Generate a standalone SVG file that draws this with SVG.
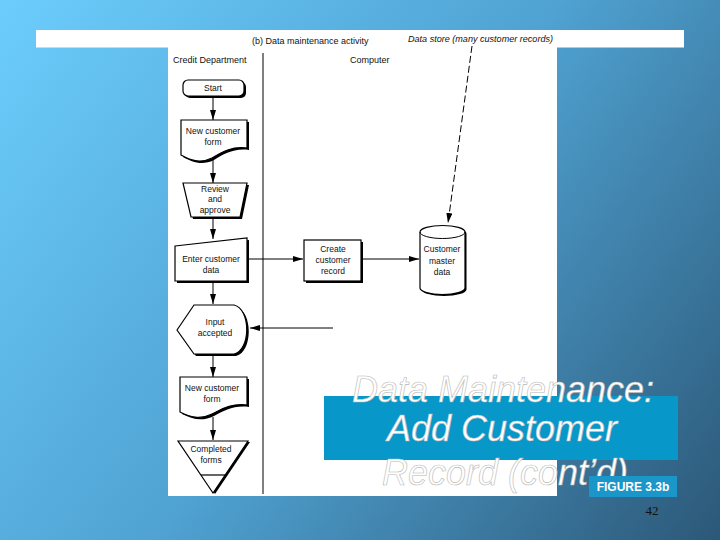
<svg xmlns="http://www.w3.org/2000/svg" width="720" height="540" viewBox="0 0 720 540">
<defs>
<linearGradient id="bg" x1="0" y1="0" x2="720" y2="540" gradientUnits="userSpaceOnUse">
<stop offset="0" stop-color="#6ccdfc"/>
<stop offset="0.5" stop-color="#4fa2d2"/>
<stop offset="1" stop-color="#2c5878"/>
</linearGradient>
<marker id="ah" markerWidth="10" markerHeight="6" refX="10" refY="3" orient="auto" markerUnits="userSpaceOnUse">
<path d="M0,0 L10,3 L0,6 Z" fill="#000"/>
</marker>
<style>
.t{font-family:"Liberation Sans",Arial,sans-serif;font-size:8.5px;fill:#111;text-anchor:middle}
.h{font-family:"Liberation Sans",Arial,sans-serif;font-size:9px;fill:#111}
.s{fill:#fff;stroke:#000;stroke-width:1.2}
.sh{fill:#000}
.c{stroke:#000;stroke-width:1;fill:none}
.big{font-family:"Liberation Sans",Arial,sans-serif;font-style:italic;font-size:36px;fill:#fff;stroke:#b8b8b8;stroke-width:0.6;text-anchor:middle}
</style>
</defs>
<rect width="720" height="540" fill="url(#bg)"/>
<rect x="36" y="30" width="648" height="17.5" fill="#fff"/>
<rect x="168" y="47" width="389" height="449" fill="#fff"/>

<text class="h" x="252" y="44">(b) Data maintenance activity</text>
<text class="h" x="408" y="42" font-style="italic" font-size="8.5" textLength="145" lengthAdjust="spacingAndGlyphs">Data store (many customer records)</text>
<text class="h" x="173" y="63">Credit Department</text>
<text class="h" x="350" y="63">Computer</text>
<line x1="263" y1="53" x2="263" y2="494" stroke="#000" stroke-width="1"/>

<g id="connectors">
<line class="c" x1="213" y1="97" x2="213" y2="120" marker-end="url(#ah)"/>
<line class="c" x1="213" y1="160" x2="213" y2="183" marker-end="url(#ah)"/>
<line class="c" x1="213" y1="218" x2="213" y2="239" marker-end="url(#ah)"/>
<line class="c" x1="248" y1="259" x2="303" y2="259" marker-end="url(#ah)"/>
<line class="c" x1="363" y1="259" x2="419" y2="259" marker-end="url(#ah)"/>
<line class="c" x1="472" y1="46" x2="448" y2="223" stroke-dasharray="7,3" marker-end="url(#ah)"/>
<line class="c" x1="213" y1="283" x2="213" y2="304" marker-end="url(#ah)"/>
<line class="c" x1="333" y1="328" x2="250" y2="328" marker-end="url(#ah)"/>
<line class="c" x1="213" y1="355" x2="213" y2="377" marker-end="url(#ah)"/>
<line class="c" x1="213" y1="417" x2="213" y2="440" marker-end="url(#ah)"/>
</g>

<g id="start">
<rect class="sh" x="185" y="82" width="61" height="16" rx="5"/>
<rect class="s" x="183" y="80" width="61" height="16" rx="5"/>
<text class="t" x="213" y="91">Start</text>
</g>
<g id="form1">
<path class="sh" transform="translate(2,2)" d="M181,120 H247 V148 C232,146 222,152 212,158 C200,164 190,160 181,155 Z"/>
<path class="s" d="M181,120 H247 V148 C232,146 222,152 212,158 C200,164 190,160 181,155 Z"/>
<text class="t" x="213" y="134">New customer</text>
<text class="t" x="213" y="145">form</text>
</g>
<g id="review">
<path class="sh" transform="translate(2,2)" d="M183,183 H247 L240,217 H191 Z"/>
<path class="s" d="M183,183 H247 L240,217 H191 Z"/>
<text class="t" x="215" y="192">Review</text>
<text class="t" x="215" y="202">and</text>
<text class="t" x="215" y="213">approve</text>
</g>
<g id="enter">
<path class="sh" transform="translate(2,2)" d="M175,246 L247,238 V281 H175 Z"/>
<path class="s" d="M175,246 L247,238 V281 H175 Z"/>
<text class="t" x="211" y="262">Enter customer</text>
<text class="t" x="211" y="273">data</text>
</g>
<g id="create">
<rect class="sh" x="306" y="242" width="57" height="41"/>
<rect class="s" x="304" y="240" width="57" height="41"/>
<text class="t" x="333" y="252">Create</text>
<text class="t" x="333" y="263">customer</text>
<text class="t" x="333" y="274">record</text>
</g>
<g id="master">
<path class="sh" transform="translate(1.5,1.5)" d="M420,232 A22.5,6.5 0 0 1 465,232 V288 A22.5,6.5 0 0 1 420,288 Z"/>
<path class="s" d="M420,232 A22.5,6.5 0 0 1 465,232 V288 A22.5,6.5 0 0 1 420,288 Z"/>
<path class="c" stroke-width="1.2" d="M420,232 A22.5,6.5 0 0 0 465,232"/>
<text class="t" x="442" y="252">Customer</text>
<text class="t" x="442" y="264">master</text>
<text class="t" x="442" y="275">data</text>
</g>
<g id="accepted">
<path class="sh" transform="translate(2,2)" d="M177,330 L194,305 H234 C251,309 251,350 234,354 H194 Z"/>
<path class="s" d="M177,330 L194,305 H234 C251,309 251,350 234,354 H194 Z"/>
<text class="t" x="215" y="325">Input</text>
<text class="t" x="215" y="336">accepted</text>
</g>
<g id="form2">
<path class="sh" transform="translate(2,2)" d="M180,377 H247 V405 C232,403 222,409 212,414 C200,420 190,417 180,412 Z"/>
<path class="s" d="M180,377 H247 V405 C232,403 222,409 212,414 C200,420 190,417 180,412 Z"/>
<text class="t" x="212" y="391">New customer</text>
<text class="t" x="212" y="402">form</text>
</g>
<g id="completed">
<path class="sh" transform="translate(2,1)" d="M178,441 H248 L213,493 Z"/>
<path class="s" d="M178,441 H248 L213,493 Z"/>
<line x1="201" y1="475" x2="225" y2="475" stroke="#000" stroke-width="1.2"/>
<text class="t" x="211" y="452">Completed</text>
<text class="t" x="211" y="463">forms</text>
</g>

<rect x="324" y="396" width="354" height="64" fill="#0797c9"/>
<text class="big" x="503" y="402">Data Maintenance:</text>
<text class="big" x="502" y="441">Add Customer</text>
<text class="big" x="505" y="485">Record (cont’d)</text>
<rect x="589" y="476" width="88" height="21" fill="#1a96c9"/>
<text x="633" y="491" font-family="'Liberation Sans',Arial,sans-serif" font-weight="bold" font-size="12" fill="#fff" text-anchor="middle">FIGURE 3.3b</text>
<text x="652" y="515" font-family="'Liberation Serif','Times New Roman',serif" font-size="13" fill="#111" text-anchor="middle">42</text>
</svg>
